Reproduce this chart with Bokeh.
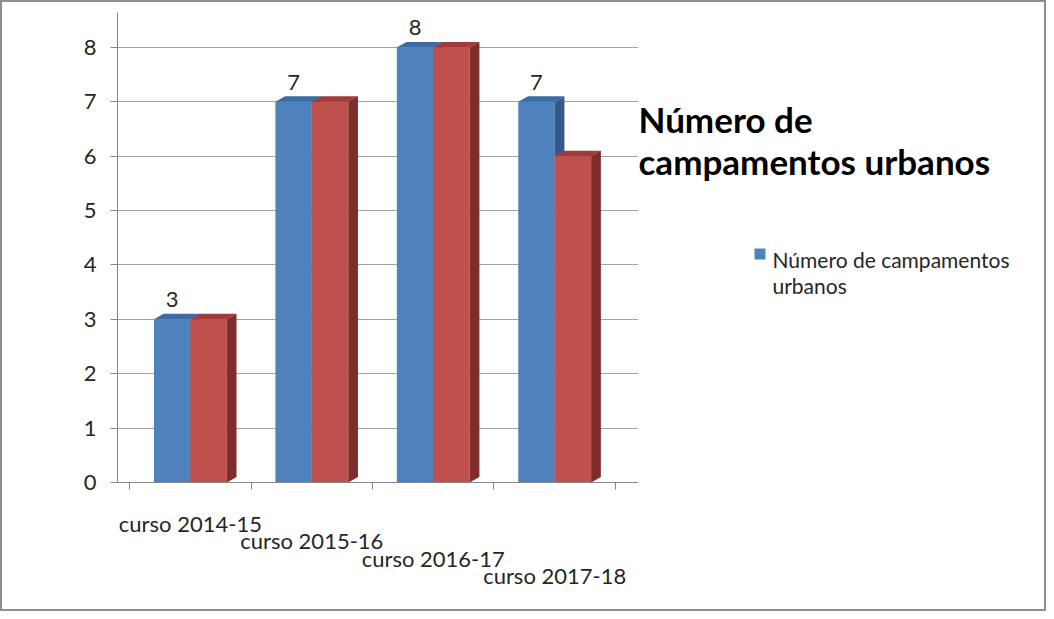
from bokeh.plotting import figure
from bokeh.layouts import row
from bokeh.models import (BoxAnnotation, ColumnDataSource, FixedTicker, Label, LabelSet,
                          Range1d)
from bokeh.core.properties import value
from bokeh.embed import file_html
from bokeh.resources import INLINE

# ---- data ----
categories = ["curso 2014-15", "curso 2015-16", "curso 2016-17", "curso 2017-18"]
serie_azul = [3, 7, 8, 7]
serie_roja = [3, 7, 8, 6]
etiquetas = ["3", "7", "8", "7"]
y_ticks = [0, 1, 2, 3, 4, 5, 6, 7, 8]
title_lines = ["Número de", "campamentos urbanos"]
legend_lines = ["Número de campamentos", "urbanos"]

# ---- style constants ----
BAR_W = 0.3
DX = 0.08
DY = 0.1
BLUE, BLUE_TOP, BLUE_SIDE = "#4F81BD", "#3D6BA3", "#34598A"
RED, RED_TOP, RED_SIDE = "#C0504D", "#9E3C3A", "#7E2D2B"
TEXT = "#262626"
FONT = "Lato"
FS = "22px"

idx = list(range(len(categories)))
xb = [i - BAR_W / 2 for i in idx]
xr = [i + BAR_W / 2 for i in idx]

src_b = ColumnDataSource(dict(x=xb, top=serie_azul))
src_r = ColumnDataSource(dict(x=xr, top=serie_roja))
src_lbl = ColumnDataSource(dict(x=xb, y=serie_azul, t=etiquetas))


def side_faces(xs, vals):
    return dict(
        xs=[[x + BAR_W / 2, x + BAR_W / 2 + DX, x + BAR_W / 2 + DX, x + BAR_W / 2] for x in xs],
        ys=[[0, DY, v + DY, v] for v in vals])


def top_faces(xs, vals):
    return dict(
        xs=[[x - BAR_W / 2, x - BAR_W / 2 + DX, x + BAR_W / 2 + DX, x + BAR_W / 2] for x in xs],
        ys=[[v, v + DY, v + DY, v] for v in vals])


H = 607
TOTAL_W = 1042
PW = 636
p = figure(width=PW, height=H, x_range=Range1d(-0.6, 3.69), y_range=Range1d(0, 8.64),
           output_backend="svg", toolbar_location=None,
           min_border_left=115, min_border_right=0, min_border_top=10, min_border_bottom=127)
p.outline_line_color = None
p.background_fill_color = "white"
p.border_fill_color = "white"

# axes
p.yaxis.ticker = FixedTicker(ticks=y_ticks)
p.yaxis.axis_line_color = "#868686"
p.yaxis.major_tick_line_color = "#868686"
p.yaxis.major_tick_out = 7
p.yaxis.major_tick_in = 0
p.yaxis.minor_tick_line_color = None
p.yaxis.major_label_text_font = FONT
p.yaxis.major_label_text_font_size = FS
p.yaxis.major_label_text_color = TEXT
p.yaxis.major_label_standoff = 14

p.xaxis.ticker = FixedTicker(ticks=idx, minor_ticks=[-0.5, 0.5, 1.5, 2.5, 3.5])
p.xaxis.major_label_overrides = {i: "\n" * i + c for i, c in zip(idx, categories)}
p.xaxis.axis_line_color = "#868686"
p.xaxis.major_tick_line_color = None
p.xaxis.minor_tick_line_color = "#868686"
p.xaxis.minor_tick_out = 7
p.xaxis.minor_tick_in = 0
p.xaxis.major_label_text_font = FONT
p.xaxis.major_label_text_font_size = FS
p.xaxis.major_label_text_color = TEXT
p.xaxis.major_label_text_line_height = 0.65
p.xaxis.major_label_standoff = 20

p.xgrid.visible = False
p.ygrid.ticker = FixedTicker(ticks=y_ticks)
p.ygrid.grid_line_color = "#a3a3a3"

# bars (blue)
p.vbar(x="x", top="top", width=BAR_W, source=src_b, fill_color=BLUE, line_color=None)
p.patches(source=ColumnDataSource(side_faces(xb, serie_azul)), fill_color=BLUE_SIDE, line_color=None)
p.patches(source=ColumnDataSource(top_faces(xb, serie_azul)), fill_color=BLUE_TOP, line_color=None)
# bars (red)
p.vbar(x="x", top="top", width=BAR_W, source=src_r, fill_color=RED, line_color=None)
p.patches(source=ColumnDataSource(top_faces(xr, serie_roja)), fill_color=RED_TOP, line_color=None)
p.patches(source=ColumnDataSource(side_faces(xr, serie_roja)), fill_color=RED_SIDE, line_color=None)

# data labels
p.add_layout(LabelSet(x="x", y="y", text="t", source=src_lbl, y_offset=12,
                      text_align="center", text_baseline="bottom",
                      text_font=value(FONT), text_font_size=value(FS), text_color=TEXT))

# right panel: title + legend
q = figure(width=TOTAL_W - PW, height=H, x_range=Range1d(0, 1), y_range=Range1d(0, 1),
           output_backend="svg", toolbar_location=None,
           min_border_left=0, min_border_right=0, min_border_top=0, min_border_bottom=0)
q.axis.visible = False
q.grid.visible = False
q.outline_line_color = None
q.background_fill_color = "white"
q.border_fill_color = "white"

for k, line in enumerate(title_lines):
    q.add_layout(Label(x=0, y=364 - 42 * k, x_units="screen", y_units="screen", text=line,
                       text_font=FONT, text_font_style="bold", text_font_size="35px",
                       text_color="black", text_baseline="alphabetic"))

# legend key and text
q.add_layout(BoxAnnotation(left=116, right=127, top=234, bottom=223,
                           left_units="screen", right_units="screen",
                           top_units="screen", bottom_units="screen",
                           fill_color=BLUE, fill_alpha=1, line_color=None))
for k, line in enumerate(legend_lines):
    q.add_layout(Label(x=134, y=223 - 26 * k, x_units="screen", y_units="screen", text=line,
                       text_font=FONT, text_font_size="21px", text_color=TEXT,
                       text_baseline="alphabetic"))

layout = row(p, q, spacing=0)
layout.styles = {"border": "2px solid #8f8f8f"}

open("out.html", "w").write(file_html(layout, INLINE))
